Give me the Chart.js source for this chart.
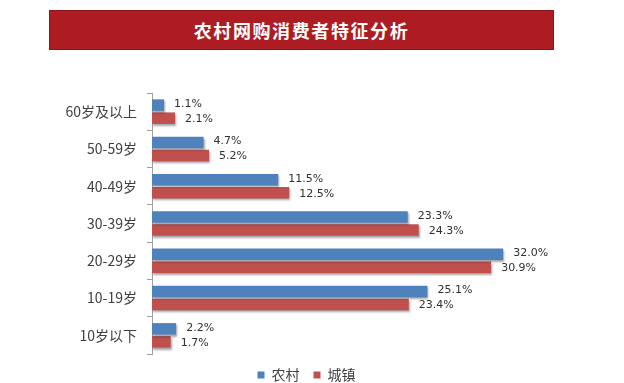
<!DOCTYPE html>
<html>
<head>
<meta charset="utf-8">
<script src="https://cdn.jsdelivr.net/npm/chart.js@4.4.0/dist/chart.umd.min.js"></script>
<style>
html,body{margin:0;padding:0;background:#fff;}
#wrap{position:relative;width:624px;height:383px;overflow:hidden;}
#title{position:absolute;left:49px;top:10px;width:505px;height:40px;background:#AD1C22;border:1px solid #8f1419;box-sizing:border-box;color:#fff;font:bold 18px "Noto Sans CJK SC",sans-serif;line-height:38px;text-align:center;letter-spacing:1.6px;}
canvas{position:absolute;left:0;top:0;}
</style>
</head>
<body>
<div id="wrap">
<div id="title">农村网购消费者特征分析</div>
<canvas id="c" width="624" height="383"></canvas>
</div>
<script>
const categories = ["60岁及以上","50-59岁","40-49岁","30-39岁","20-29岁","10-19岁","10岁以下"];
const seriesNames = ["农村","城镇"];
const rural = [1.1, 4.7, 11.5, 23.3, 32.0, 25.1, 2.2];
const urban = [2.1, 5.2, 12.5, 24.3, 30.9, 23.4, 1.7];

const shadowPlugin = {
  id:'shadow',
  beforeDatasetsDraw(chart){
    const ctx = chart.ctx;
    ctx.save();
    ctx.shadowColor = 'rgba(0,0,0,0.35)';
    ctx.shadowOffsetX = 1;
    ctx.shadowOffsetY = 2;
    ctx.shadowBlur = 2;
  },
  afterDatasetsDraw(chart){
    chart.ctx.restore();
    const ctx = chart.ctx;
    ctx.save();
    ctx.font = '11px "DejaVu Sans", sans-serif';
    ctx.fillStyle = '#303030';
    ctx.textBaseline = 'middle';
    ctx.textAlign = 'left';
    chart.data.datasets.forEach((ds, di) => {
      const meta = chart.getDatasetMeta(di);
      meta.data.forEach((bar, i) => {
        ctx.fillText(ds.data[i].toFixed(1) + '%', bar.x + 10, bar.y + (di===0 ? -1 : 1));
      });
    });
    ctx.restore();
  }
};

new Chart(document.getElementById('c'), {
  type:'bar',
  data:{
    labels:categories,
    datasets:[
      {label:seriesNames[0], data:rural, backgroundColor:'#4F81BD', categoryPercentage:0.7, barPercentage:0.88},
      {label:seriesNames[1], data:urban, backgroundColor:'#C0504D', categoryPercentage:0.7, barPercentage:0.88}
    ]
  },
  options:{
    indexAxis:'y',
    responsive:false,
    animation:false,
    layout:{padding:{left:22,right:33,top:93,bottom:-9}},
    scales:{
      x:{display:false, min:0, max:40},
      y:{
        afterFit(s){ s.width = 130; },
        border:{display:true,color:'#a0a0a0',width:1},
        grid:{offset:true, drawOnChartArea:false, tickLength:5, color:'#a0a0a0'},
        ticks:{color:'#404040', padding:10, font:{family:'"Noto Sans CJK SC", sans-serif', size:14}}
      }
    },
    plugins:{
      legend:{
        position:'bottom',
        labels:{boxWidth:7, boxHeight:7, color:'#404040', padding:14, font:{family:'"Noto Sans CJK SC", sans-serif', size:14}}
      },
      tooltip:{enabled:false}
    }
  },
  plugins:[shadowPlugin]
});
</script>
</body>
</html>
